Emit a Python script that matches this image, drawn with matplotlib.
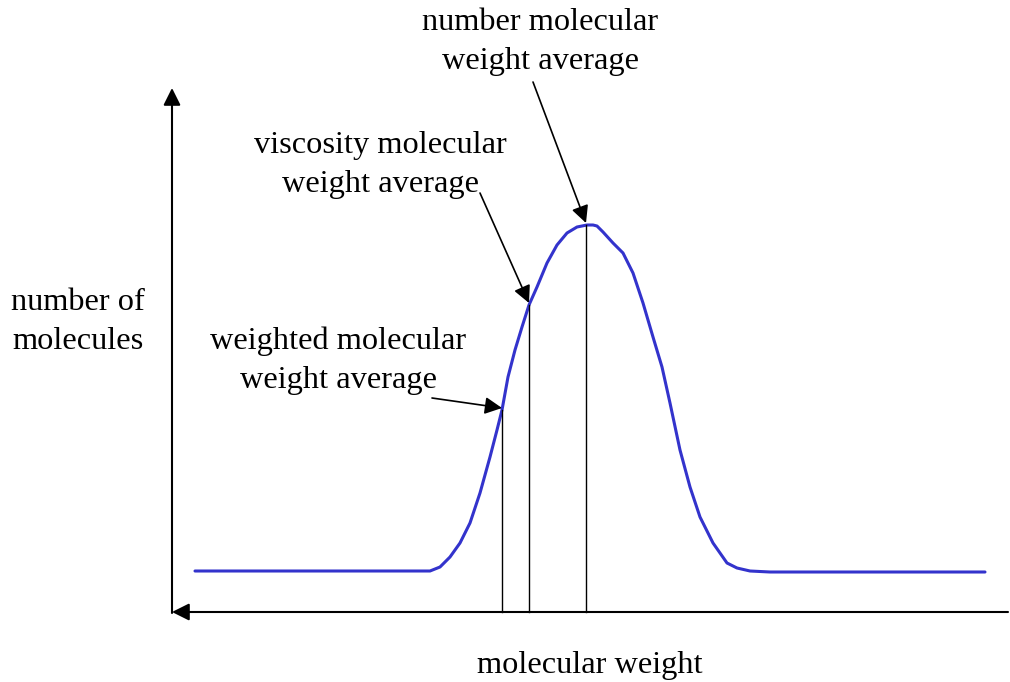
import matplotlib.pyplot as plt

# distribution curve, x/y measured from the axis origin
curve_x = [23, 248, 258, 268, 278, 288, 298, 308, 318, 325, 330, 336, 343,
           350, 357, 365, 375, 385, 395, 405, 415, 421, 425, 431, 441, 451,
           461, 471, 481, 490, 498, 508, 518, 528, 541, 555, 565, 578, 598, 813]
curve_y = [41, 41, 41, 45, 55, 69, 89, 119, 155, 182, 202, 235, 262,
           285, 307, 325, 349, 367, 379, 385, 387, 387, 386, 380, 369, 359,
           339, 309, 275, 245, 209, 162, 125, 95, 69, 49, 44, 41, 40, 40]

# averages: x position and curve height where the marker meets the curve
avg_labels = ["weighted molecular\nweight average",
              "viscosity molecular\nweight average",
              "number molecular\nweight average"]
avg_x = [330, 357, 414]
avg_y = [202, 307, 387]
label_pos = [(166, 251), (208, 447), (368, 570)]
arrow_start = [(260, 214), (308, 419), (361, 530)]

x_axis_len = 836
y_axis_len = 524

fig = plt.figure(figsize=(10.1, 6.82), dpi=100)
ax = fig.add_axes([0, 0, 1, 1])
ax.set_xlim(-172, 838)
ax.set_ylim(-70, 612)
ax.axis("off")

plt.rcParams["font.family"] = ["Liberation Serif", "DejaVu Serif"]
fs = 23.3
ls = 1.45

# axes drawn as arrows
ax.annotate("", xy=(0, y_axis_len), xytext=(0, -1),
            arrowprops=dict(arrowstyle="-|>", color="black", lw=1.5,
                            mutation_scale=26, shrinkA=0, shrinkB=0))
ax.annotate("", xy=(0, 0), xytext=(x_axis_len, 0),
            arrowprops=dict(arrowstyle="-|>", color="black", lw=1.5,
                            mutation_scale=26, shrinkA=0, shrinkB=0))

ax.plot(curve_x, curve_y, color="#3333cc", lw=2.2,
        solid_joinstyle="round", solid_capstyle="round")

for lab, x, y, (tx, ty), (sx, sy) in zip(avg_labels, avg_x, avg_y,
                                          label_pos, arrow_start):
    ax.plot([x, x], [0, y], color="black", lw=1)
    ax.text(tx, ty, lab, ha="center", va="center", fontsize=fs,
            linespacing=ls)
    ax.annotate("", xy=(x, y + 2), xytext=(sx, sy),
                arrowprops=dict(arrowstyle="-|>", color="black", lw=1.2,
                                mutation_scale=26, shrinkA=0, shrinkB=0))

ax.text(-94, 290, "number of\nmolecules", ha="center", va="center",
        fontsize=fs, linespacing=ls)
ax.text(418, -53, "molecular weight", ha="center", va="center", fontsize=fs)

fig.savefig("out.png", dpi=100)
